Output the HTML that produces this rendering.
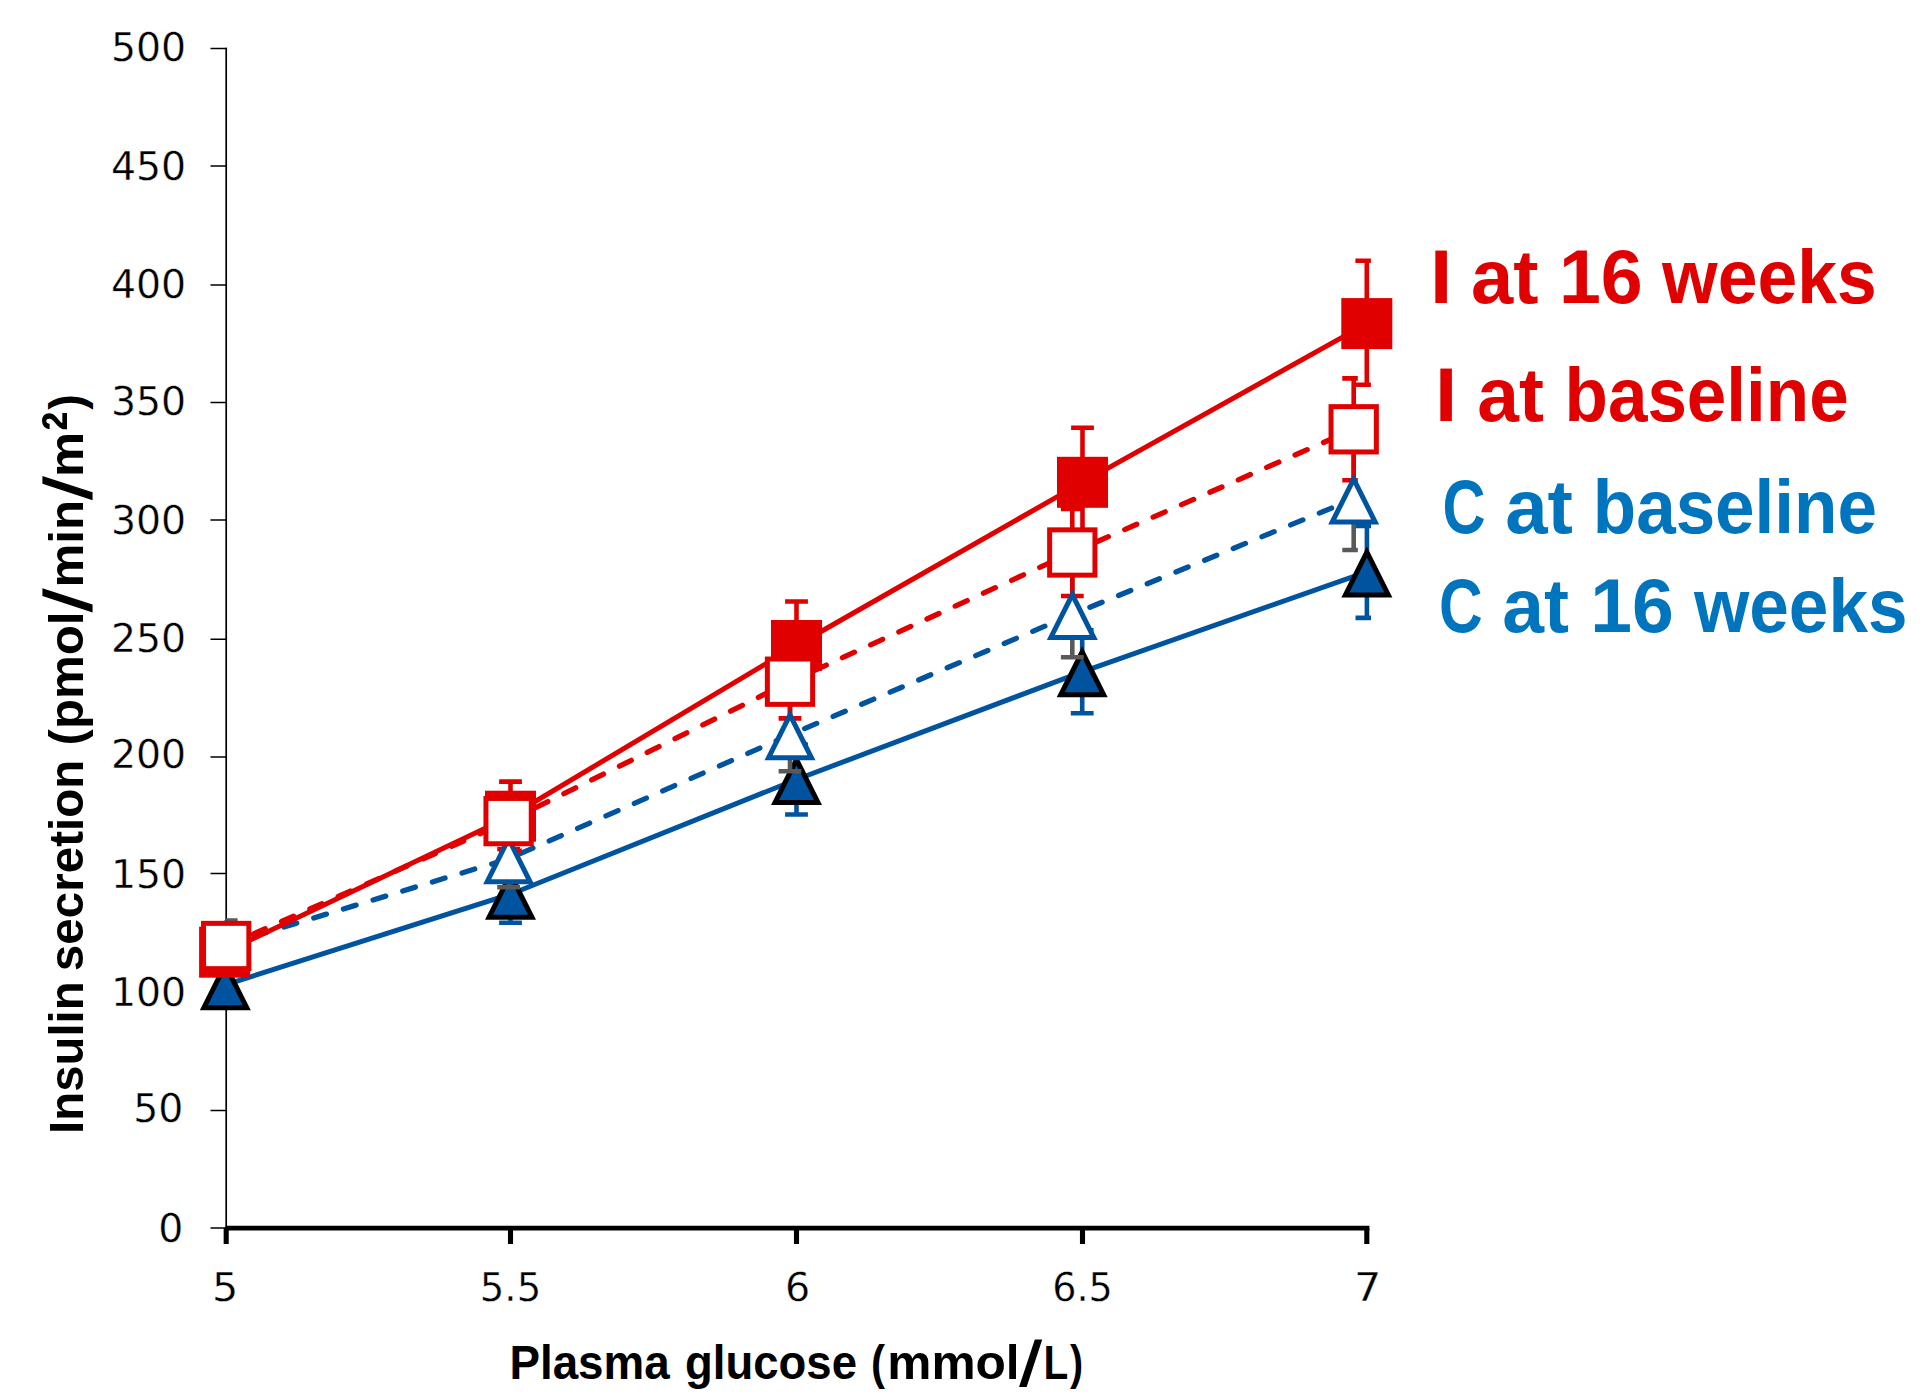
<!DOCTYPE html>
<html><head><meta charset="utf-8"><title>Insulin secretion vs plasma glucose</title>
<style>
html,body{margin:0;padding:0;background:#fff}
svg{display:block}
text{white-space:pre}
.tk text{font:38.5px "DejaVu Sans","Liberation Sans",sans-serif;fill:#000;stroke:#fff;stroke-width:0.35px;paint-order:fill stroke}
.lg{font:bold 75.5px "Liberation Sans","DejaVu Sans",sans-serif}
.xt{font:bold 48px "Liberation Sans","DejaVu Sans",sans-serif}
.yt{font:bold 49px "Liberation Sans","DejaVu Sans",sans-serif}
.xs{font:63px "Liberation Sans","DejaVu Sans",sans-serif;stroke:#000;stroke-width:1.2px}
.ys{font:66px "Liberation Sans","DejaVu Sans",sans-serif;stroke:#000;stroke-width:1.2px}
.y2{font:bold 69.6px "Liberation Sans","DejaVu Sans",sans-serif}
</style></head><body>
<svg width="1924" height="1400" viewBox="0 0 1924 1400">
<rect width="1924" height="1400" fill="#fff"/>
<g>
<path d="M226.2 47.8V1228" stroke="#000" stroke-width="1.7" fill="none"/>
<path d="M210.5 48.5H226.9M210.5 166H226.9M210.5 285H226.9M210.5 402.5H226.9M210.5 520H226.9M210.5 639.25H226.9M210.5 757H226.9M210.5 873.5H226.9M210.5 991.4H226.9M210.5 1110.5H226.9M210.5 1228H226.9" stroke="#000" stroke-width="1.5" fill="none"/>
<path d="M225.5 1228.2H1369.4" stroke="#000" stroke-width="4.8" fill="none"/>
<path d="M226.2 1228V1243.9M510.5 1228V1243.9M796.5 1228V1243.9M1082.5 1228V1243.9M1366.8 1228V1243.9" stroke="#000" stroke-width="5.1" fill="none"/>
</g>
<g>
<polyline points="225.3,984.8 510.5,894.2 796.5,779.5 1082.2,671.8 1366.9,571.9" fill="none" stroke="#00549F" stroke-width="5.0"/>
<path d="M225.3 964.8V1004.8M224.3 964.8H236.7M224.3 1004.8H236.7" fill="none" stroke="#00549F" stroke-width="4.6"/>
<path d="M510.5 865.7V922.7M499.1 865.7H521.9M499.1 922.7H521.9" fill="none" stroke="#00549F" stroke-width="4.6"/>
<path d="M796.5 744.5V814.5M785.1 744.5H807.9M785.1 814.5H807.9" fill="none" stroke="#00549F" stroke-width="4.6"/>
<path d="M1082.2 630.3V713.3M1070.8 630.3H1093.6M1070.8 713.3H1093.6" fill="none" stroke="#00549F" stroke-width="4.6"/>
<path d="M1366.9 525.9V617.9M1355.5 525.9H1371M1355.5 617.9H1371" fill="none" stroke="#00549F" stroke-width="4.6"/>
<polygon points="225.3,959.3 250.8,1010.3 199.8,1010.3" fill="#000"/>
<polygon points="225.3,970.48 242.71,1005.3 207.89,1005.3" fill="#00549F"/>
<polygon points="510.5,868.7 536,919.7 485,919.7" fill="#000"/>
<polygon points="510.5,879.88 527.91,914.7 493.09,914.7" fill="#00549F"/>
<polygon points="796.5,754 822,805 771,805" fill="#000"/>
<polygon points="796.5,765.18 813.91,800 779.09,800" fill="#00549F"/>
<polygon points="1082.2,646.3 1107.7,697.3 1056.7,697.3" fill="#000"/>
<polygon points="1082.2,657.48 1099.61,692.3 1064.79,692.3" fill="#00549F"/>
<polygon points="1366.9,546.4 1392.4,597.4 1341.4,597.4" fill="#000"/>
<polygon points="1366.9,557.58 1384.31,592.4 1349.49,592.4" fill="#00549F"/>
<path d="M226.2 920.5V968.5M225.2 920.5H237.6M225.2 968.5H237.6" fill="none" stroke="#595959" stroke-width="4.6"/>
<path d="M508.6 830.4V887.2M497.2 830.4H520M497.2 887.2H520" fill="none" stroke="#595959" stroke-width="4.6"/>
<path d="M790 698.3V771.3M778.6 698.3H801.4M778.6 771.3H801.4" fill="none" stroke="#595959" stroke-width="4.6"/>
<path d="M1072.3 571.7V657.3M1060.9 571.7H1083.7M1060.9 657.3H1083.7" fill="none" stroke="#595959" stroke-width="4.6"/>
<path d="M1353.7 448V550M1342.3 448H1357.8M1342.3 550H1357.8" fill="none" stroke="#595959" stroke-width="4.6"/>
<polyline points="226.2,944.5 508.6,858.8 790,734.8 1072.3,614.5 1353.7,499" fill="none" stroke="#00549F" stroke-width="5.3" stroke-dasharray="13.2 17.8" stroke-dashoffset="1.5" stroke-linecap="round"/>
<polyline points="224.6,952.2 510.5,816.2 796.5,645.5 1082.5,482.3 1366.8,323.6" fill="none" stroke="#E00000" stroke-width="5.0"/>
<polyline points="226.2,946 508.6,821.1 790,681.7 1072.3,552.5 1353.7,429.3" fill="none" stroke="#E00000" stroke-width="5.3" stroke-dasharray="13.2 17.8" stroke-dashoffset="1.5" stroke-linecap="round"/>
<path d="M224.6 932.2V972.2M223.6 932.2H236M223.6 972.2H236" fill="none" stroke="#E00000" stroke-width="4.6"/>
<path d="M510.5 781.6V850.8M499.1 781.6H521.9M499.1 850.8H521.9" fill="none" stroke="#E00000" stroke-width="4.6"/>
<path d="M796.5 601.5V689.5M785.1 601.5H807.9M785.1 689.5H807.9" fill="none" stroke="#E00000" stroke-width="4.6"/>
<path d="M1082.5 427.7V536.9M1071.1 427.7H1093.9M1071.1 536.9H1093.9" fill="none" stroke="#E00000" stroke-width="4.6"/>
<path d="M1366.8 260.8V384.7M1355.4 260.8H1370.9M1355.4 384.7H1370.9" fill="none" stroke="#E00000" stroke-width="4.6"/>
<path d="M226.2 926V966M225.2 926H237.6M225.2 966H237.6" fill="none" stroke="#E00000" stroke-width="4.6"/>
<path d="M508.6 793.2V849M497.2 793.2H520M497.2 849H520" fill="none" stroke="#E00000" stroke-width="4.6"/>
<path d="M790 645V718.4M778.6 645H801.4M778.6 718.4H801.4" fill="none" stroke="#E00000" stroke-width="4.6"/>
<path d="M1072.3 509V596M1060.9 509H1083.7M1060.9 596H1083.7" fill="none" stroke="#E00000" stroke-width="4.6"/>
<path d="M1353.7 378.4V480.2M1342.3 378.4H1357.8M1342.3 480.2H1357.8" fill="none" stroke="#E00000" stroke-width="4.6"/>
<polygon points="226.2,919 251.7,970 200.7,970" fill="#00549F"/>
<polygon points="226.2,930.18 243.61,965 208.79,965" fill="#fff"/>
<polygon points="508.6,833.3 534.1,884.3 483.1,884.3" fill="#00549F"/>
<polygon points="508.6,844.48 526.01,879.3 491.19,879.3" fill="#fff"/>
<polygon points="790,709.3 815.5,760.3 764.5,760.3" fill="#00549F"/>
<polygon points="790,720.48 807.41,755.3 772.59,755.3" fill="#fff"/>
<polygon points="1072.3,589 1097.8,640 1046.8,640" fill="#00549F"/>
<polygon points="1072.3,600.18 1089.71,635 1054.89,635" fill="#fff"/>
<polygon points="1353.7,473.5 1379.2,524.5 1328.2,524.5" fill="#00549F"/>
<polygon points="1353.7,484.68 1371.11,519.5 1336.29,519.5" fill="#fff"/>
<rect x="199.1" y="926.7" width="51" height="51" fill="#E00000"/>
<rect x="485" y="790.7" width="51" height="51" fill="#E00000"/>
<rect x="771" y="620" width="51" height="51" fill="#E00000"/>
<rect x="1057" y="456.8" width="51" height="51" fill="#E00000"/>
<rect x="1341.3" y="298.1" width="51" height="51" fill="#E00000"/>
<rect x="203.55" y="923.35" width="45.3" height="45.3" fill="#fff" stroke="#E00000" stroke-width="5"/>
<rect x="485.95" y="798.45" width="45.3" height="45.3" fill="#fff" stroke="#E00000" stroke-width="5"/>
<rect x="767.35" y="659.05" width="45.3" height="45.3" fill="#fff" stroke="#E00000" stroke-width="5"/>
<rect x="1049.65" y="529.85" width="45.3" height="45.3" fill="#fff" stroke="#E00000" stroke-width="5"/>
<rect x="1331.05" y="406.65" width="45.3" height="45.3" fill="#fff" stroke="#E00000" stroke-width="5"/>
</g>
<g class="tk">
<text x="110.983" y="60.7" textLength="75.214" lengthAdjust="spacingAndGlyphs">500</text>
<text x="110.983" y="180.2" textLength="75.214" lengthAdjust="spacingAndGlyphs">450</text>
<text x="110.983" y="297.95" textLength="75.214" lengthAdjust="spacingAndGlyphs">400</text>
<text x="110.983" y="415.2" textLength="75.214" lengthAdjust="spacingAndGlyphs">350</text>
<text x="110.983" y="534.2" textLength="75.214" lengthAdjust="spacingAndGlyphs">300</text>
<text x="110.983" y="651.7" textLength="75.214" lengthAdjust="spacingAndGlyphs">250</text>
<text x="110.983" y="768.45" textLength="75.214" lengthAdjust="spacingAndGlyphs">200</text>
<text x="110.983" y="887.7" textLength="75.214" lengthAdjust="spacingAndGlyphs">150</text>
<text x="110.983" y="1005.95" textLength="75.214" lengthAdjust="spacingAndGlyphs">100</text>
<text x="133.182" y="1122.2" textLength="50.143" lengthAdjust="spacingAndGlyphs">50</text>
<text x="158.376" y="1241.7" textLength="25.071" lengthAdjust="spacingAndGlyphs">0</text>
<text x="212.068" y="1301.1" textLength="26.337" lengthAdjust="spacingAndGlyphs">5</text>
<text x="479.796" y="1301.1" textLength="61.471" lengthAdjust="spacingAndGlyphs">5.5</text>
<text x="785.093" y="1301.1" textLength="25.192" lengthAdjust="spacingAndGlyphs">6</text>
<text x="1052.196" y="1301.1" textLength="60.725" lengthAdjust="spacingAndGlyphs">6.5</text>
<text x="1354.09" y="1301.1" textLength="27.387" lengthAdjust="spacingAndGlyphs">7</text>
</g>
<g>
<text class="lg" fill="#E00000"><tspan x="1430.129" y="302.5" textLength="22.264" lengthAdjust="spacingAndGlyphs">I</tspan> <tspan x="1470.981" y="302.5" textLength="67.444" lengthAdjust="spacingAndGlyphs">at</tspan> <tspan x="1559.015" y="302.5" textLength="83.738" lengthAdjust="spacingAndGlyphs">16</tspan> <tspan x="1662.085" y="302.5" textLength="214.595" lengthAdjust="spacingAndGlyphs">weeks</tspan></text>
<text class="lg" fill="#E00000"><tspan x="1435.129" y="421.25" textLength="22.264" lengthAdjust="spacingAndGlyphs">I</tspan> <tspan x="1477.257" y="421.25" textLength="66.657" lengthAdjust="spacingAndGlyphs">at</tspan> <tspan x="1564.549" y="421.25" textLength="284.093" lengthAdjust="spacingAndGlyphs">baseline</tspan></text>
<text class="lg" fill="#0075BD"><tspan x="1442.522" y="532.5" textLength="43.072" lengthAdjust="spacingAndGlyphs">C</tspan> <tspan x="1505.222" y="532.5" textLength="67.707" lengthAdjust="spacingAndGlyphs">at</tspan> <tspan x="1592.799" y="532.5" textLength="284.093" lengthAdjust="spacingAndGlyphs">baseline</tspan></text>
<text class="lg" fill="#0075BD"><tspan x="1438.987" y="631.7" textLength="43.684" lengthAdjust="spacingAndGlyphs">C</tspan> <tspan x="1502.154" y="631.7" textLength="66.762" lengthAdjust="spacingAndGlyphs">at</tspan> <tspan x="1590.28" y="631.7" textLength="83.463" lengthAdjust="spacingAndGlyphs">16</tspan> <tspan x="1693.885" y="631.7" textLength="213.733" lengthAdjust="spacingAndGlyphs">weeks</tspan></text>
<text class="xt" fill="#000"><tspan x="509.413" y="1378.6" textLength="160.239" lengthAdjust="spacingAndGlyphs">Plasma</tspan> <tspan x="685.105" y="1378.6" textLength="171.842" lengthAdjust="spacingAndGlyphs">glucose</tspan> <tspan x="871.074" y="1378.6" textLength="14.043" lengthAdjust="spacingAndGlyphs">(</tspan><tspan x="887.266" y="1378.6" textLength="132.397" lengthAdjust="spacingAndGlyphs">mmol</tspan><tspan class="xs" x="1019.968" y="1386.3" textLength="21.318" lengthAdjust="spacingAndGlyphs">/</tspan><tspan x="1043.459" y="1378.6" textLength="24.814" lengthAdjust="spacingAndGlyphs">L</tspan><tspan x="1070.005" y="1378.6" textLength="13.082" lengthAdjust="spacingAndGlyphs">)</tspan></text>
<text class="yt" fill="#000" transform="translate(83.3 0) rotate(-90)"><tspan x="-1133.889" y="0" textLength="152.506" lengthAdjust="spacingAndGlyphs">Insulin</tspan> <tspan x="-971.161" y="0" textLength="211.478" lengthAdjust="spacingAndGlyphs">secretion</tspan> <tspan x="-745.376" y="0" textLength="133.898" lengthAdjust="spacingAndGlyphs">(pmol</tspan><tspan class="ys" x="-611.491" y="7.31" textLength="22.257" lengthAdjust="spacingAndGlyphs">/</tspan><tspan x="-587.608" y="0" textLength="87.712" lengthAdjust="spacingAndGlyphs">min</tspan><tspan class="ys" x="-499.388" y="7.31" textLength="22.351" lengthAdjust="spacingAndGlyphs">/</tspan><tspan x="-477.007" y="0" textLength="45.175" lengthAdjust="spacingAndGlyphs">m</tspan><tspan class="y2" x="-430.731" y="7.8" textLength="19.051" lengthAdjust="spacingAndGlyphs">²</tspan><tspan x="-409.65" y="0" textLength="15.65" lengthAdjust="spacingAndGlyphs">)</tspan></text>
</g>
</svg>
</body></html>
